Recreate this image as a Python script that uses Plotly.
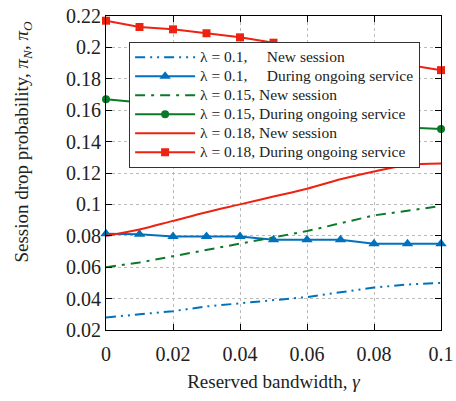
import plotly.graph_objects as go

gamma = [0, 0.01, 0.02, 0.03, 0.04, 0.05, 0.06, 0.07, 0.08, 0.09, 0.1]

new_01 = [0.028, 0.030, 0.032, 0.035, 0.037, 0.039, 0.041, 0.044, 0.047, 0.049, 0.050]
ong_01 = [0.0813, 0.081, 0.0796, 0.0796, 0.0796, 0.0775, 0.0775, 0.0775, 0.075, 0.075, 0.075]
new_015 = [0.060, 0.063, 0.067, 0.071, 0.075, 0.079, 0.083, 0.088, 0.093, 0.096, 0.099]
ong_015 = [0.167, 0.165, 0.163, 0.161, 0.159, 0.157, 0.155, 0.153, 0.151, 0.149, 0.148]
new_018 = [0.080, 0.084, 0.0895, 0.095, 0.100, 0.105, 0.110, 0.116, 0.121, 0.125, 0.126]
ong_018 = [0.217, 0.213, 0.2115, 0.209, 0.2064, 0.203, 0.200, 0.196, 0.193, 0.189, 0.1855]

xticks = [0, 0.02, 0.04, 0.06, 0.08, 0.1]
xticklabels = ["0", "0.02", "0.04", "0.06", "0.08", "0.1"]
yticks = [0.02, 0.04, 0.06, 0.08, 0.1, 0.12, 0.14, 0.16, 0.18, 0.2, 0.22]
yticklabels = ["0.02", "0.04", "0.06", "0.08", "0.1", "0.12", "0.14", "0.16", "0.18", "0.2", "0.22"]

BLUE = "#0072BD"
GREEN = "#0A7A2A"
RED = "#EE2211"
SP = "&nbsp;"
FONT = "Liberation Serif, Times New Roman, Times, serif"


def lab(s):
    return '<span style="font-size:15.5px">' + s + "</span>"


fig = go.Figure()
fig.add_trace(go.Scatter(x=gamma, y=new_01, mode="lines", name=lab("λ = 0.1," + SP * 5 + "New session"),
                         line=dict(color=BLUE, width=2, dash="10px,5px,2px,5px,2px,5px")))
fig.add_trace(go.Scatter(x=gamma, y=ong_01, mode="lines+markers", name=lab("λ = 0.1," + SP * 5 + "During ongoing service"),
                         line=dict(color=BLUE, width=2), marker=dict(symbol="triangle-up", size=10, color=BLUE),
                         cliponaxis=False))
fig.add_trace(go.Scatter(x=gamma, y=new_015, mode="lines", name=lab("λ = 0.15, New session"),
                         line=dict(color=GREEN, width=2, dash="10px,6px,3px,6px")))
fig.add_trace(go.Scatter(x=gamma, y=ong_015, mode="lines+markers", name=lab("λ = 0.15, During ongoing service"),
                         line=dict(color=GREEN, width=2), marker=dict(symbol="circle", size=8, color=GREEN),
                         cliponaxis=False))
fig.add_trace(go.Scatter(x=gamma, y=new_018, mode="lines", name=lab("λ = 0.18, New session"),
                         line=dict(color=RED, width=2, shape="spline")))
fig.add_trace(go.Scatter(x=gamma, y=ong_018, mode="lines+markers", name=lab("λ = 0.18, During ongoing service"),
                         line=dict(color=RED, width=2), marker=dict(symbol="square", size=8, color=RED),
                         cliponaxis=False))

axis_common = dict(showline=True, linecolor="black", linewidth=1.2, mirror="ticks",
                   ticks="inside", ticklen=6, tickcolor="black", automargin=False,
                   showgrid=True, gridcolor="#BBBBBB", griddash="dot", gridwidth=1,
                   zeroline=False, tickfont=dict(family=FONT, size=20, color="#222"))

fig.update_xaxes(range=[0, 0.1], tickvals=xticks, ticktext=xticklabels, ticklabelstandoff=6,
                 title=dict(text="Reserved bandwidth, <i>γ</i>", font=dict(family=FONT, size=19, color="#222"),
                            standoff=10),
                 **axis_common)
fig.update_yaxes(range=[0.02, 0.22], tickvals=yticks, ticktext=yticklabels,
                 **axis_common)

fig.add_annotation(text="Session drop probability, <i>π</i><sub><i>N</i></sub>, <i>π</i><sub><i>O</i></sub>",
                   xref="paper", yref="paper", x=-0.248, y=0.60, xanchor="center", yanchor="middle",
                   textangle=-90, showarrow=False, font=dict(family=FONT, size=19, color="#222"))

fig.update_layout(
    width=456, height=401,
    margin=dict(l=106, r=15, t=16, b=71),
    plot_bgcolor="white", paper_bgcolor="white",
    font=dict(family=FONT, size=15, color="#222"),
    legend=dict(x=0.069, y=0.918, xanchor="left", yanchor="top",
                bgcolor="white", bordercolor="#333", borderwidth=1,
                font=dict(family=FONT, size=11.5, color="#222"),
                tracegroupgap=0, itemwidth=60),
    showlegend=True,
)

fig.write_html("out.html")
